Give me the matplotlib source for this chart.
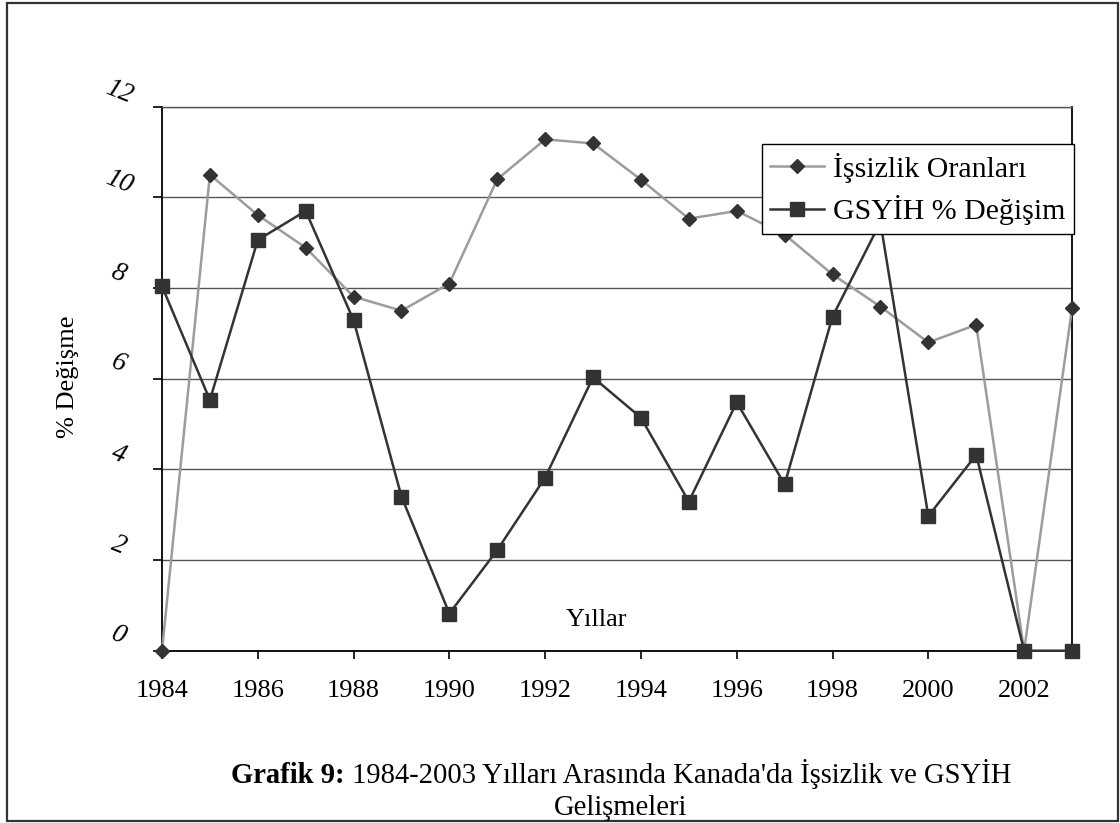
import matplotlib
matplotlib.use("Agg")
import matplotlib.pyplot as plt
import matplotlib.transforms as mtransforms
from matplotlib.patches import Rectangle

years = list(range(1984, 2004))
unemployment = [0.0, 10.5, 9.61, 8.89, 7.81, 7.5, 8.1, 10.4, 11.28, 11.19,
                10.39, 9.53, 9.7, 9.18, 8.3, 7.59, 6.8, 7.19, 0.0, 7.55]
gdp_change = [8.04, 5.53, 9.06, 9.7, 7.29, 3.4, 0.82, 2.22, 3.82, 6.03,
              5.14, 3.29, 5.48, 3.67, 7.37, 9.45, 2.97, 4.32, 0.0, 0.0]
series_labels = ["İşsizlik Oranları", "GSYİH % Değişim"]
x_ticks = list(range(1984, 2003, 2))
y_ticks = [0, 2, 4, 6, 8, 10, 12]
y_label = "% Değişme"
x_label = "Yıllar"
caption_bold = "Grafik 9:"
caption_rest = " 1984-2003 Yılları Arasında Kanada'da İşsizlik ve GSYİH"
caption_line2 = "Gelişmeleri"

plt.rcParams['font.family'] = ['Liberation Serif', 'DejaVu Serif']
FS = 19
FS_LEG = 21.5
FS_CAP = 20.6

W, H = 1120, 823
fig = plt.figure(figsize=(W / 100, H / 100), dpi=100)
ax = fig.add_axes([162 / W, 1 - 650.7 / H, (1072 - 162) / W, (650.7 - 106.7) / H])

ax.plot(years, unemployment, color='#9c9c9c', lw=1.8, marker='D', ms=7,
        mfc='#333333', mec='#333333', label=series_labels[0], clip_on=False, zorder=3)
ax.plot(years, gdp_change, color='#333333', lw=1.8, marker='s', ms=9.5,
        mfc='#333333', mec='#333333', label=series_labels[1], clip_on=False, zorder=4)

ax.set_xlim(1984, 2003)
ax.set_ylim(0, 12)
ax.set_xticks(x_ticks)
ax.set_xticklabels([str(v) for v in x_ticks], fontsize=FS)
ax.set_yticks(y_ticks)
ax.set_yticklabels([str(v) for v in y_ticks], fontsize=FS + 0.5, style='italic')

ax.yaxis.grid(True, color='#555555', lw=1.0)
ax.set_axisbelow(True)
ax.tick_params(axis='x', direction='out', length=6, width=1.2, pad=15)
ax.tick_params(axis='y', direction='out', length=6.5, width=1.2, pad=24)

for s in ['left', 'bottom', 'right']:
    ax.spines[s].set_color('black')
    ax.spines[s].set_linewidth(1.3)
ax.spines['top'].set_color('#555555')
ax.spines['top'].set_linewidth(1.0)

offset = mtransforms.ScaledTranslation(-1 / 100, 15 / 100, fig.dpi_scale_trans)
for lab in ax.get_yticklabels():
    lab.set_rotation(-22)
    lab.set_ha('center')
    lab.set_va('center')
    lab.set_rotation_mode('anchor')
    lab.set_transform(lab.get_transform() + offset)

fig.text(68 / W, 1 - 377 / H, y_label, rotation=90, ha='center', va='center', fontsize=FS)
ax.text((597 - 162) / 910, (650.7 - 620) / 544, x_label, transform=ax.transAxes,
        ha='center', va='center', fontsize=FS)

leg = ax.legend(loc='upper left', bbox_to_anchor=((761.7 - 162) / 910, (650.7 - 144.3) / 544),
                fontsize=FS_LEG, frameon=True, fancybox=False, shadow=False, framealpha=1.0,
                handlelength=1.8, handletextpad=0.3, borderpad=0.28, labelspacing=0.42,
                borderaxespad=0)
leg.get_frame().set_edgecolor('black')
leg.get_frame().set_linewidth(1.0)
leg.set_zorder(10)

# caption
fig.canvas.draw()
r = fig.canvas.get_renderer()
cap_y = 1 - 783 / H
t1 = fig.text(0, cap_y, caption_bold, fontweight='bold', fontsize=FS_CAP, ha='left', va='baseline')
t2 = fig.text(0, cap_y, caption_rest, fontsize=FS_CAP, ha='left', va='baseline')
w1 = t1.get_window_extent(r).width
w2 = t2.get_window_extent(r).width
cx = 621
x0 = cx - (w1 + w2) / 2
t1.set_x(x0 / W)
t2.set_x((x0 + w1) / W)
fig.text(cx / W, 1 - 815 / H, caption_line2, fontsize=FS_CAP, ha='center', va='baseline')

fig.patches.append(Rectangle((7 / W, 1 - 820.5 / H), (1118 - 7) / W, (820.5 - 3) / H,
                             transform=fig.transFigure, fill=False, edgecolor='#333333', lw=1.6))

fig.savefig("out.png", dpi=100)
